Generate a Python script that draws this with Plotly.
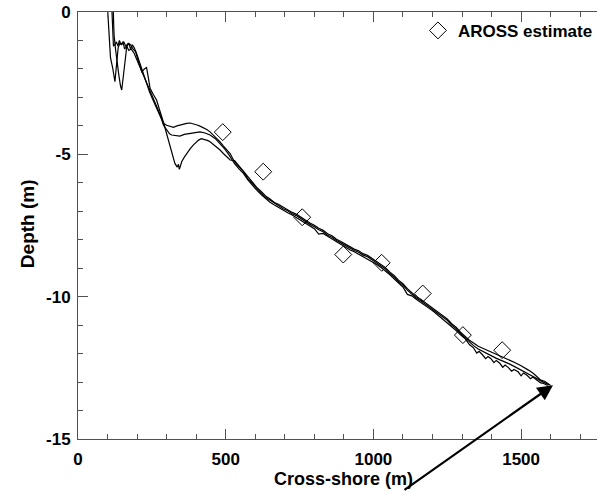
import plotly.graph_objects as go

# ---------------- data ----------------
aross_x = [490, 627, 759, 898, 1028, 1167, 1303, 1436]
aross_y = [-4.22, -5.61, -7.21, -8.52, -8.81, -9.89, -11.35, -11.88]

# nearshore + bar section of each survey profile
p1_near_x = [95, 100, 105, 110, 118, 125, 130, 136, 142, 148, 155, 162, 170, 178, 186, 195, 205, 216, 225, 232, 238, 244, 255, 266, 275, 283, 290,
             328, 336, 340, 343, 347, 351, 360, 368, 380, 391, 400, 408, 418, 430, 440, 447, 458, 470, 481, 492, 503, 515]
p1_near_y = [1.0, 0.0, -1.0, -1.6, -2.0, -2.45, -1.9, -1.25, -1.1, -1.15, -1.05, -1.2, -1.1, -1.15, -1.3, -1.4, -1.75, -2.1, -2.0, -1.95, -2.3, -2.68, -2.9, -3.09, -3.4, -3.68, -3.9,
             -5.32, -5.45, -5.35, -5.53, -5.4, -5.26, -5.1, -4.97, -4.8, -4.67, -4.57, -4.5, -4.45, -4.48, -4.52, -4.56, -4.65, -4.73, -4.85, -4.97, -5.08, -5.2]

p2_near_x = [113, 116, 120, 125, 130, 135, 140, 146, 152, 158, 165, 172, 180, 190, 200, 210, 220, 230, 240, 250, 260, 270, 280, 289,
             300, 310, 317, 330, 345, 360, 379, 395, 413, 430, 447, 465, 481, 497, 510]
p2_near_y = [0.5, -0.5, -1.2, -1.15, -1.05, -1.2, -1.0, -1.15, -1.05, -1.3, -1.2, -1.35, -1.3, -1.45, -1.7, -1.9, -2.2, -2.45, -2.7, -2.95, -3.15, -3.4, -3.65, -3.97,
             -4.15, -4.28, -4.32, -4.35, -4.36, -4.3, -4.27, -4.22, -4.21, -4.25, -4.32, -4.45, -4.62, -4.82, -5.0]

p3_near_x = [118, 122, 127, 131, 138, 144, 148, 153, 159, 165, 172, 178, 184, 190, 198, 206, 214, 222, 232, 242, 252, 262, 272, 282, 289,
             300, 312, 323, 335, 345, 356, 368, 380, 392, 403, 413, 425, 436, 447, 458, 470, 481, 492, 503, 515]
p3_near_y = [0.5, -0.8, -1.3, -1.69, -2.2, -2.6, -2.74, -2.3, -1.69, -1.22, -1.1, -1.3, -1.15, -1.25, -1.45, -1.7, -1.95, -2.25, -2.5, -2.8, -3.05, -3.3, -3.55, -3.75, -3.91,
             -3.98, -4.03, -4.05, -4.0, -3.97, -3.93, -3.91, -3.9, -3.93, -3.97, -4.01, -4.07, -4.13, -4.21, -4.32, -4.44, -4.56, -4.7, -4.84, -4.97]

# offshore slope where the three profiles overlap
band_x = [530, 545, 560, 575, 590, 605, 620, 635, 650, 665, 680, 695, 710, 725, 740, 755, 770, 785, 800, 815,
          830, 845, 860, 875, 890, 905, 920, 935, 950, 965, 980, 995, 1010, 1025, 1040, 1055, 1070, 1085, 1100, 1115,
          1130, 1145, 1160, 1175, 1190, 1205, 1220, 1235, 1250, 1265, 1280, 1295]
p1_band_y = [-5.22, -5.41, -5.58, -5.79, -5.99, -6.16, -6.30, -6.46, -6.57, -6.69, -6.76, -6.86, -6.93, -7.04, -7.11, -7.22, -7.30, -7.41, -7.49, -7.60,
             -7.67, -7.79, -7.86, -7.98, -8.06, -8.16, -8.23, -8.33, -8.39, -8.49, -8.55, -8.66, -8.74, -8.88, -8.97, -9.13, -9.25, -9.42, -9.54, -9.72,
             -9.85, -10.00, -10.09, -10.21, -10.30, -10.44, -10.54, -10.68, -10.78, -10.95, -11.07, -11.25]
p2_band_y = [-5.33, -5.51, -5.67, -5.90, -6.09, -6.26, -6.41, -6.55, -6.68, -6.78, -6.88, -6.95, -7.05, -7.13, -7.23, -7.31, -7.42, -7.50, -7.61, -7.80,
             -7.78, -7.88, -7.98, -8.07, -8.18, -8.25, -8.35, -8.42, -8.51, -8.58, -8.67, -8.75, -8.86, -8.97, -9.09, -9.22, -9.37, -9.51, -9.66, -9.92,
             -9.97, -10.09, -10.21, -10.30, -10.42, -10.53, -10.66, -10.77, -10.90, -11.04, -11.19, -11.34]
p3_band_y = [-5.27, -5.46, -5.61, -5.86, -6.03, -6.21, -6.35, -6.51, -6.61, -6.74, -6.81, -6.91, -6.98, -7.09, -7.16, -7.27, -7.35, -7.46, -7.54, -7.65,
             -7.72, -7.84, -7.91, -8.03, -8.11, -8.21, -8.28, -8.38, -8.44, -8.54, -8.60, -8.71, -8.79, -8.93, -9.02, -9.18, -9.30, -9.47, -9.59, -9.77,
             -9.90, -10.05, -10.14, -10.26, -10.35, -10.49, -10.59, -10.73, -10.83, -11.00, -11.12, -11.30]

# deep end where the profiles separate again
p1_off_x = [1310, 1325, 1339, 1355, 1370, 1385, 1395, 1410, 1425, 1440, 1452, 1465, 1480, 1497, 1510, 1525, 1542, 1555, 1565, 1581, 1600]
p1_off_y = [-11.40, -11.53, -11.63, -11.74, -11.81, -11.88, -11.93, -11.99, -12.06, -12.12, -12.17, -12.24, -12.32, -12.41, -12.48, -12.58, -12.70, -12.82, -12.92, -12.98, -13.12]
p2_off_x = [1310, 1325, 1339, 1350, 1358, 1370, 1380, 1388, 1398, 1408, 1416, 1428, 1438, 1446, 1458, 1468, 1476, 1490, 1500, 1508, 1520, 1532, 1540, 1553, 1565, 1578, 1590]
p2_off_y = [-11.47, -11.68, -11.80, -11.98, -11.92, -12.05, -12.18, -12.10, -12.18, -12.32, -12.24, -12.34, -12.48, -12.40, -12.50, -12.62, -12.56, -12.64, -12.78, -12.68, -12.76, -12.88, -12.82, -12.93, -13.02, -13.06, -13.12]
p3_off_x = [1310, 1325, 1339, 1355, 1370, 1385, 1400, 1415, 1430, 1445, 1460, 1475, 1490, 1505, 1520, 1535, 1550, 1565, 1580, 1595]
p3_off_y = [-11.44, -11.60, -11.72, -11.84, -11.93, -12.02, -12.08, -12.16, -12.22, -12.28, -12.36, -12.44, -12.52, -12.60, -12.68, -12.76, -12.86, -12.95, -13.03, -13.10]

x_tickvals = [0, 500, 1000, 1500]
x_ticktext = ["0", "500", "1000", "1500"]
y_tickvals = [0, -5, -10, -15]
y_ticktext = ["0", "-5", "-10", "-15"]

arrow_tip = (1608, -13.11)

# ---------------- figure ----------------
FONT = "Liberation Sans, Arial, sans-serif"
AX = "#505050"

fig = go.Figure()
profiles = [
    (p1_near_x + band_x + p1_off_x, p1_near_y + p1_band_y + p1_off_y),
    (p2_near_x + band_x + p2_off_x, p2_near_y + p2_band_y + p2_off_y),
    (p3_near_x + band_x + p3_off_x, p3_near_y + p3_band_y + p3_off_y),
]
for px, py in profiles:
    fig.add_trace(go.Scatter(x=px, y=py, mode="lines",
                             line=dict(color="black", width=1.2),
                             showlegend=False, hoverinfo="skip"))

fig.add_trace(go.Scatter(x=aross_x, y=aross_y, mode="markers", name="<b>AROSS estimate</b>",
                         marker=dict(symbol="diamond-open", size=13, color="black",
                                     line=dict(width=1, color="black"))))

fig.add_annotation(x=arrow_tip[0], y=arrow_tip[1], xref="x", yref="y", text="",
                   showarrow=True, arrowhead=2, arrowsize=1.4, arrowwidth=2.2,
                   arrowcolor="black", ax=-150, ay=114, standoff=0)

fig.add_annotation(text="<b>Cross-shore (m)</b>", xref="paper", yref="paper",
                   x=0.5106, y=-0.0944, xanchor="center", yanchor="middle",
                   showarrow=False, font=dict(family=FONT, size=18, color="black"))
fig.add_annotation(text="<b>Depth (m)</b>", xref="paper", yref="paper",
                   x=-0.0983, y=0.5055, xanchor="center", yanchor="middle", textangle=-90,
                   showarrow=False, font=dict(family=FONT, size=19, color="black"))

fig.update_xaxes(range=[0, 1757], tickvals=x_tickvals, ticktext=["<b>%s</b>" % t for t in x_ticktext],
                 ticks="inside", ticklen=10, tickwidth=1, tickcolor=AX,
                 showline=True, linecolor=AX, linewidth=1, mirror="ticks",
                 minor=dict(dtick=100, tick0=0, ticks="inside", ticklen=5, tickcolor=AX, tickwidth=1),
                 showgrid=False, zeroline=False, ticklabelstandoff=5, automargin=False,
                 tickfont=dict(family=FONT, size=17, color="black"))
fig.update_yaxes(range=[-15, 0], tickvals=y_tickvals, ticktext=["<b>%s</b>" % t for t in y_ticktext],
                 ticks="inside", ticklen=10, tickwidth=1, tickcolor=AX,
                 showline=True, linecolor=AX, linewidth=1, mirror=False,
                 minor=dict(dtick=1, tick0=0, ticks="inside", ticklen=5, tickcolor=AX, tickwidth=1),
                 showgrid=False, zeroline=False, ticklabelstandoff=3, automargin=False,
                 tickfont=dict(family=FONT, size=17, color="black"))

fig.update_layout(width=597, height=491,
                  margin=dict(l=78, r=0, t=12, b=52, pad=0, autoexpand=False),
                  paper_bgcolor="white", plot_bgcolor="white",
                  showlegend=True,
                  legend=dict(x=0.655, y=0.998, xanchor="left", yanchor="top",
                              bgcolor="rgba(0,0,0,0)", borderwidth=0,
                              font=dict(family=FONT, size=17, color="black")))

fig.write_html("out.html")
